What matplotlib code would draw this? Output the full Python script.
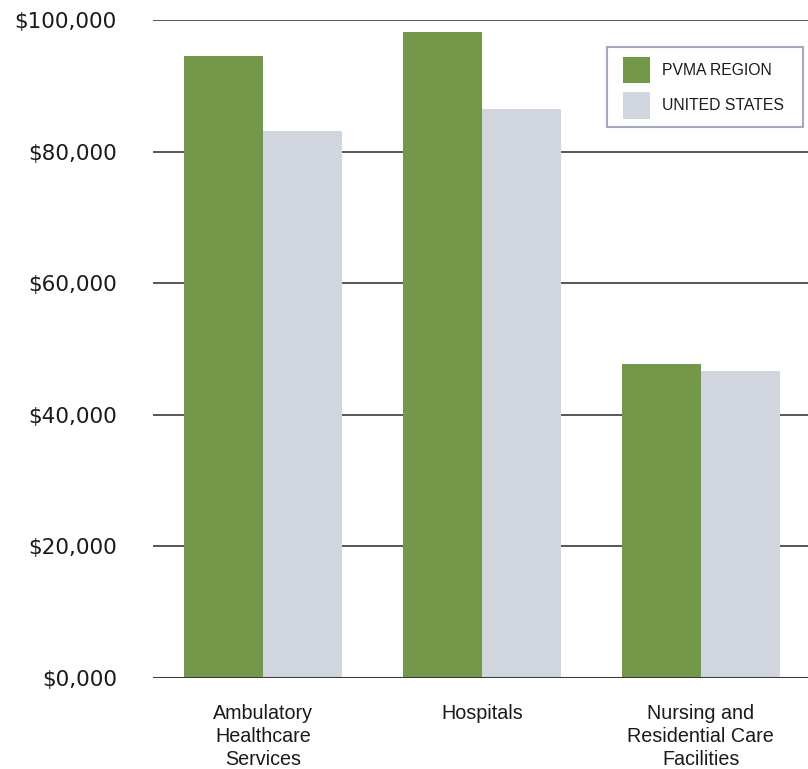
import numpy as np
from matplotlib import pyplot as plt
from matplotlib.patches import Rectangle
from matplotlib.ticker import FuncFormatter

categories = ["Ambulatory\nHealthcare\nServices", "Hospitals", "Nursing and\nResidential Care\nFacilities"]
pvma_region = [94500, 98200, 47700]
united_states = [83100, 86500, 46700]
series_names = ["PVMA REGION", "UNITED STATES"]
y_ticks = [0, 20000, 40000, 60000, 80000, 100000]

green = "#74984a"
grey = "#d1d5de"


def money(v, pos):
    if v == 0:
        return "$0,000"
    return "${:,.0f}".format(v)


def draw():
    W, H = 808, 769
    fig = plt.figure(figsize=(W / 100, H / 100), dpi=100)
    ax = fig.add_axes([153 / W, 91 / H, 655 / W, 658 / H])

    x = np.arange(len(categories))
    w = 0.36
    ax.bar(x - w / 2, pvma_region, w, color=green, label=series_names[0], zorder=3)
    ax.bar(x + w / 2, united_states, w, color=grey, label=series_names[1], zorder=3)

    ax.set_xlim(-0.502, 2.49)
    ax.set_ylim(0, 100000)
    ax.set_yticks(y_ticks)
    ax.yaxis.set_major_formatter(FuncFormatter(money))
    ax.set_xticks(x)
    ax.set_xticklabels(categories, fontfamily="Liberation Sans",
                       fontsize=14.2, color="#1a1a1a", linespacing=1.28)

    ax.grid(axis="y", color="#3a3a3a", linewidth=1.2, zorder=0)
    ax.axhline(0, color="#3a3a3a", linewidth=2.2, zorder=4)
    for s in ax.spines.values():
        s.set_visible(False)
    ax.tick_params(axis="y", length=0, pad=26, labelsize=15.5, labelcolor="#1a1a1a")
    ax.tick_params(axis="x", length=0, pad=18.5)
    for t in ax.get_yticklabels():
        t.set_fontfamily("DejaVu Sans")

    # legend entries, with a plain box drawn round them
    leg = fig.legend(loc="upper left", bbox_to_anchor=(623 / W, 1 - 57 / H),
                     bbox_transform=fig.transFigure, borderaxespad=0,
                     prop={"family": "Liberation Sans", "size": 11.3},
                     handlelength=1.7, handleheight=2.2, handletextpad=0.78,
                     labelspacing=0.58, borderpad=0, frameon=False)
    for t in leg.get_texts():
        t.set_color("#1a1a1a")
    fig.patches.append(Rectangle((607 / W, 1 - 127 / H), 196 / W, 80 / H,
                                 transform=fig.transFigure, fill=False,
                                 edgecolor="#a3abbb", linewidth=1.5))

    fig.savefig("out.png", dpi=100)


if __name__ == '__main__':
    draw()
